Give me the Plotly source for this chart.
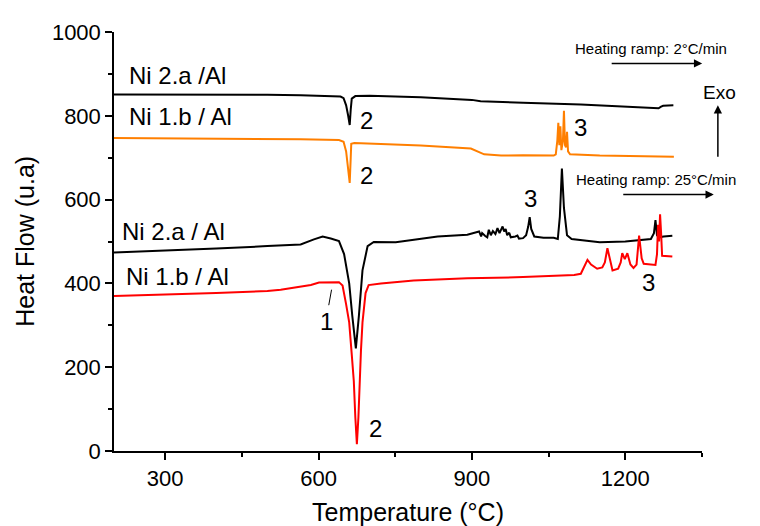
import plotly.graph_objects as go

# ---- data ----
# Ni 2.a / Al, heating ramp 2 °C/min (black, top)
a_temp = [200, 300, 400, 500, 565, 600, 643, 649, 654, 658, 661, 663, 665, 672, 700, 800, 900, 917, 957,
          1000, 1113, 1200, 1265, 1270, 1274, 1294]
a_flow = [851, 851, 850, 850, 849, 848, 846, 842, 825, 800, 778, 815, 841, 847, 848, 844, 838, 835, 833,
          831, 827, 822, 818, 822, 824, 825]

# Ni 1.b / Al, heating ramp 2 °C/min (orange)
b_temp = [200, 400, 565, 640, 649, 654, 658, 661, 663, 664, 670, 800, 898, 910, 924, 957, 1000, 1060, 1064,
          1067, 1069, 1071, 1073, 1075, 1078, 1080, 1082, 1084, 1086, 1088, 1092, 1150, 1295]
b_flow = [747, 746, 744, 742, 738, 715, 670, 640, 700, 733, 735, 729, 722, 715, 708, 705, 706, 705, 708,
          740, 783, 730, 775, 718, 740, 812, 730, 725, 762, 715, 708, 705, 702]

# Ni 2.a / Al, heating ramp 25 °C/min (black, lower)
c_temp = [200, 300, 400, 500, 526, 565, 591, 608, 624, 640, 650, 660, 666, 673, 679, 686, 696, 708, 751,
          833, 891, 914, 918, 920, 926, 930, 933, 937, 941, 946, 950, 954, 960, 963, 966, 969, 973, 976,
          985, 989, 992, 1000, 1006, 1010, 1013, 1016, 1022, 1040, 1060, 1068, 1072, 1076, 1080, 1086,
          1095, 1120, 1150, 1200, 1250, 1256, 1259, 1262, 1266, 1275, 1292]
c_flow = [474, 478, 483, 489, 491, 493, 505, 512, 507, 501, 470, 400, 323, 245, 323, 431, 489, 499, 498,
          512, 516, 524, 512, 520, 513, 510, 528, 515, 525, 518, 532, 520, 536, 524, 530, 515, 521, 510,
          512, 514, 507, 508, 515, 535, 558, 530, 512, 509, 509, 506, 560, 674, 580, 515,
          506, 502, 498, 500, 506, 520, 551, 515, 510, 512, 514]

# Ni 1.b / Al, heating ramp 25 °C/min (red)
d_temp = [200, 300, 400, 500, 526, 585, 601, 640, 647, 654, 660, 665, 669, 672, 675, 678, 680, 683, 686,
          692, 698, 722, 786, 891, 1000, 1100, 1113, 1120, 1126, 1133, 1145, 1155, 1160, 1165, 1170, 1175,
          1186, 1191, 1194, 1199, 1204, 1210, 1216, 1222, 1227, 1232, 1236, 1259, 1262, 1264, 1266, 1268,
          1270, 1272, 1292]
d_flow = [370, 373, 377, 382, 385, 396, 402, 403, 395, 350, 307, 230, 167, 80, 16, 80, 167, 240, 307,
          377, 396, 400, 407, 412, 415, 420, 423, 440, 456, 445, 435, 438, 450, 484, 455, 431,
          435, 450, 472, 458, 472, 445, 437, 445, 514, 460, 447, 444, 470, 540, 500, 565,
          520, 466, 464]

x_ticks = [300, 600, 900, 1200]
y_ticks = [0, 200, 400, 600, 800, 1000]

FONT = "Liberation Sans, Arial, sans-serif"

fig = go.Figure()
series = [
    (a_temp, a_flow, "black", "Ni 2.a /Al (2°C/min)"),
    (b_temp, b_flow, "#FF7F00", "Ni 1.b / Al (2°C/min)"),
    (c_temp, c_flow, "black", "Ni 2.a / Al (25°C/min)"),
    (d_temp, d_flow, "#FF0000", "Ni 1.b / Al (25°C/min)"),
]
for xs, ys, col, name in series:
    fig.add_trace(go.Scatter(x=xs, y=ys, mode="lines", name=name,
                             line=dict(color=col, width=2), showlegend=False))

def txt(x, y, s, size=24, xanchor="left", xref="x", yref="y"):
    return dict(x=x, y=y, xref=xref, yref=yref, text=s, showarrow=False,
                xanchor=xanchor, yanchor="middle",
                font=dict(family=FONT, size=size, color="black"))

annotations = [
    txt(225, 896, "Ni 2.a /Al"),
    txt(225, 798, "Ni 1.b / Al"),
    txt(212, 524, "Ni 2.a / Al"),
    txt(219, 416, "Ni 1.b / Al"),
    txt(694, 788, "2", xanchor="center"),
    txt(694, 658, "2", xanchor="center"),
    txt(1112, 773, "3", xanchor="center"),
    txt(1014, 603, "3", xanchor="center"),
    txt(1245, 403, "3", xanchor="center"),
    txt(616, 308, "1", xanchor="center"),
    txt(712, 53, "2", xanchor="center"),
    txt(0.781, 0.960, "Heating ramp: 2°C/min", size=15, xref="paper", yref="paper"),
    txt(0.782, 0.647, "Heating ramp: 25°C/min", size=15, xref="paper", yref="paper"),
    txt(1.030, 0.855, "Exo", size=19, xanchor="center", xref="paper", yref="paper"),
    # axis titles
    dict(x=-0.1526, y=0.5, xref="paper", yref="paper", text="Heat Flow (u.a)", showarrow=False,
         textangle=-90, xanchor="center", yanchor="middle",
         font=dict(family=FONT, size=25, color="black")),
    dict(x=0.5, y=-0.1445, xref="paper", yref="paper", text="Temperature (°C)", showarrow=False,
         xanchor="center", yanchor="middle",
         font=dict(family=FONT, size=25, color="black")),
]

def arrow(x, y, ax, ay):
    return dict(x=x, y=y, xref="paper", yref="paper", ax=ax, ay=ay, axref="pixel", ayref="pixel",
                text="", showarrow=True, arrowhead=2, arrowsize=1.1, arrowwidth=1.5,
                arrowcolor="black")

annotations += [
    arrow(1.0003, 0.925, -92, 0),
    arrow(1.020, 0.612, -92, 0),
    arrow(1.027, 0.825, 0, 53),
]

fig.add_shape(type="line", x0=620, y0=348, x1=625.5, y1=385, xref="x", yref="y",
              line=dict(color="black", width=1))

axis_common = dict(showline=True, linecolor="black", linewidth=1.5, ticks="outside",
                   ticklen=7, tickwidth=1.5, tickcolor="black", showgrid=False, zeroline=False,
                   tickfont=dict(family=FONT, size=22, color="black"), mirror=False)

# the page adds an 8px body margin, so the plot area is shifted by that much
fig.update_layout(
    width=760, height=526,
    margin=dict(l=106, r=66, t=14, b=83),
    paper_bgcolor="white", plot_bgcolor="white",
    annotations=annotations,
    xaxis=dict(range=[200, 1350], tickvals=x_ticks,
               minor=dict(dtick=150, tick0=0, ticklen=4, tickwidth=1.5, tickcolor="black", ticks="outside"),
               **axis_common),
    yaxis=dict(range=[0, 1000], tickvals=y_ticks,
               minor=dict(dtick=100, tick0=0, ticklen=4, tickwidth=1.5, tickcolor="black", ticks="outside"),
               **axis_common),
)

fig.write_html("out.html")
